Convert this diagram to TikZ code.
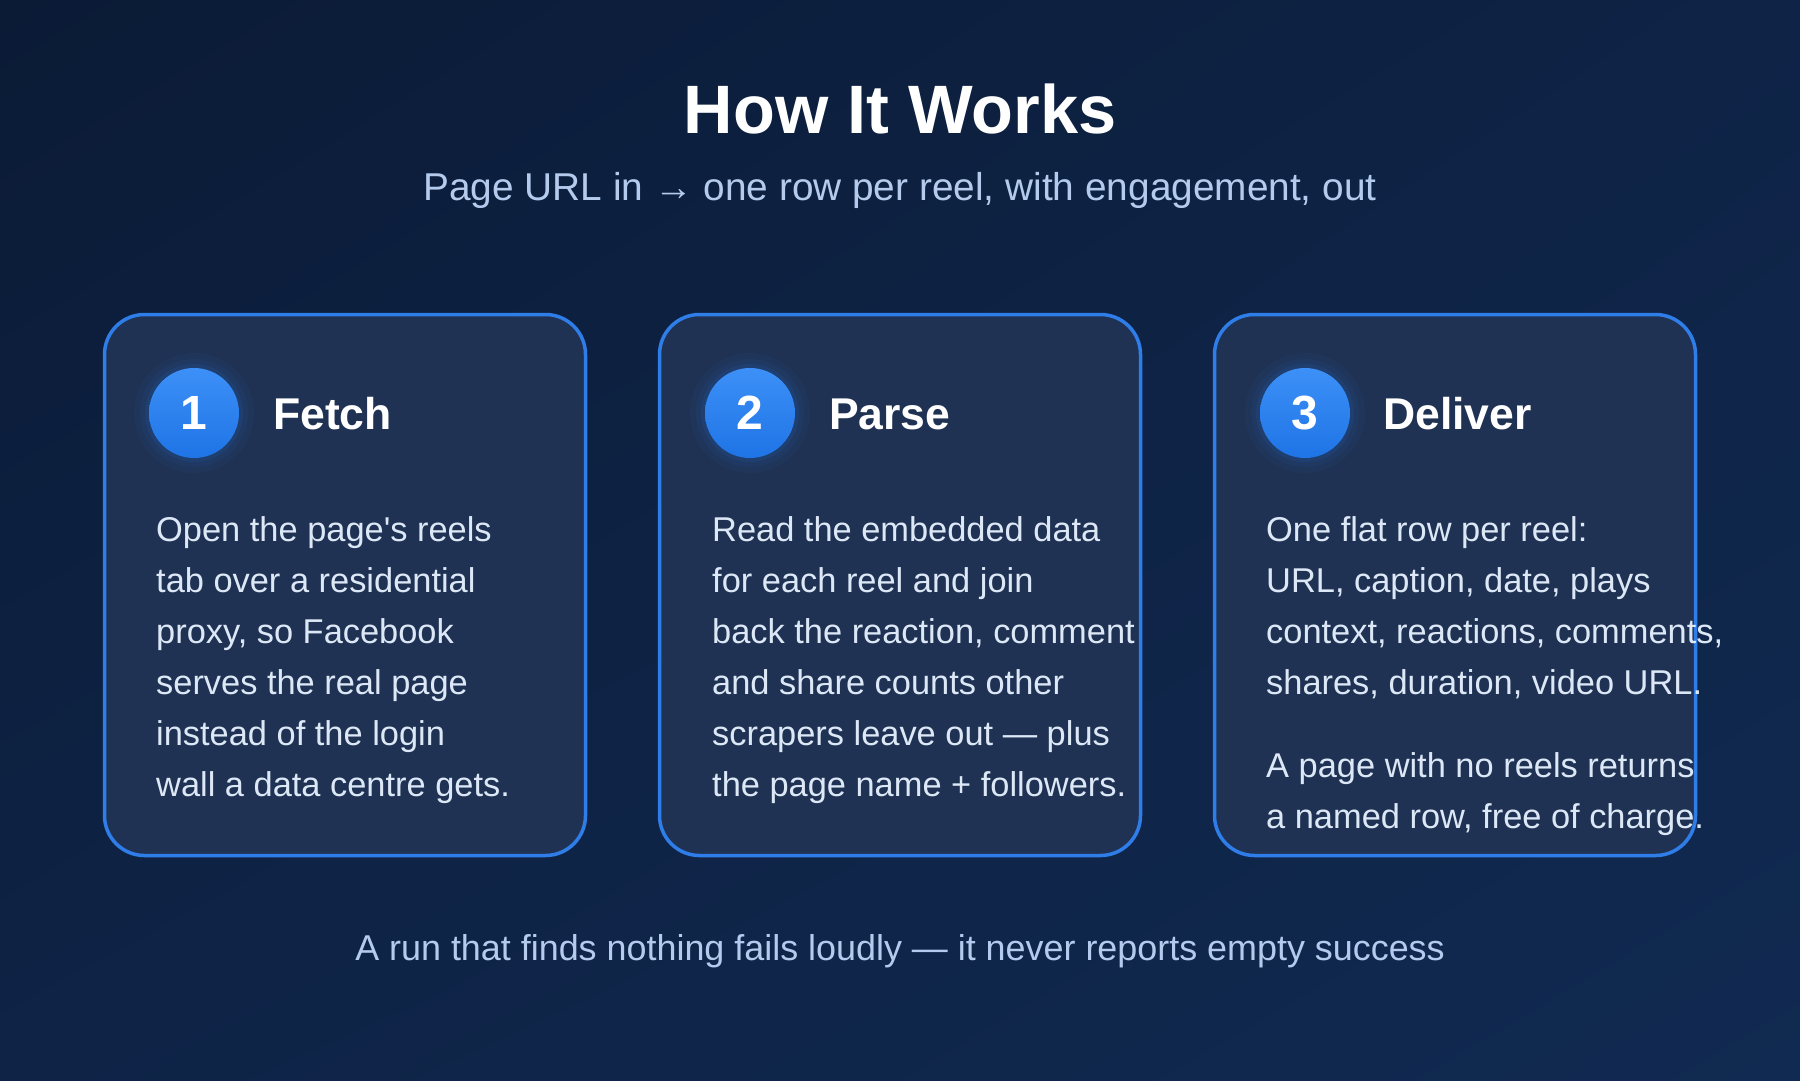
\documentclass[tikz,border=0pt]{standalone}
\usepackage{fontspec}
\setmainfont{Liberation Sans}
\usetikzlibrary{shadings}
\definecolor{bgA}{HTML}{0B1B36}
\definecolor{bgB}{HTML}{0E2346}
\definecolor{bgC}{HTML}{112A51}
\definecolor{cardfill}{HTML}{1F3253}
\definecolor{cardline}{HTML}{2F7DE8}
\definecolor{dotlight}{HTML}{3D90F7}
\definecolor{dotdark}{HTML}{1F74E6}
\definecolor{bodytext}{HTML}{DDE8F7}
\definecolor{subtext}{HTML}{B4CBED}
\begin{document}
\begin{tikzpicture}[x=1pt,y=-1pt,
  card/.style={draw=cardline, line width=3.5pt, fill=cardfill, rounded corners=40pt,
    minimum width=481pt, minimum height=541pt, inner sep=0pt},
  numdot/.style={circle, top color=dotlight, bottom color=dotdark, minimum size=90pt,
    inner sep=0pt, text=white, font=\fontsize{48}{48}\selectfont\bfseries},
  steptitle/.style={anchor=base west, inner sep=0pt, text=white,
    font=\fontsize{44.5}{44.5}\selectfont\bfseries},
  body/.style={anchor=north west, inner sep=0pt, align=left, text=bodytext,
    font=\fontsize{34.4}{51}\selectfont},
  glow/.style={fill=dotdark},
]
\useasboundingbox (0,0) rectangle (1800,1080);
\shade[upper left=bgA, upper right=bgB, lower left=bgB, lower right=bgC] (0,0) rectangle (1800,1080);

% title
\node[anchor=base, inner sep=0pt, text=white, font=\fontsize{68.5}{68.5}\selectfont\bfseries] (title) at (900,133) {How It Works};
\node[anchor=base, inner sep=0pt, text=subtext, font=\fontsize{38.8}{38.8}\selectfont] (subtitle) at (900,200) {Page URL in → one row per reel, with engagement, out};

% cards
\node[card] (card1) at (345,585) {};
\node[card] (card2) at (900,585) {};
\node[card] (card3) at (1455,585) {};

% glows
\foreach \cx in {194,750,1305}{
  \fill[glow, opacity=0.05] (\cx,413) circle (60);
  \fill[glow, opacity=0.07] (\cx,413) circle (54);
  \fill[glow, opacity=0.10] (\cx,413) circle (49);
}

% step 1
\node[numdot] (n1) at (194,413) {1};
\node[steptitle] (t1) at (273,429) {Fetch};
\node[body] (b1) at (156,505.3) {\strut Open the page\textquotesingle s reels\\tab over a residential\\proxy, so Facebook\\serves the real page\\instead of the login\\wall a data centre gets.};

% step 2
\node[numdot] (n2) at (750,413) {2};
\node[steptitle] (t2) at (829,429) {Parse};
\node[body] (b2) at (712,505.3) {\strut Read the embedded data\\for each reel and join\\back the reaction, comment\\and share counts other\\scrapers leave out — plus\\the page name + followers.};

% step 3
\node[numdot] (n3) at (1305,413) {3};
\node[steptitle] (t3) at (1383,429) {Deliver};
\node[body] (b3) at (1266,505.3) {\strut One flat row per reel:\\URL, caption, date, plays\\context, reactions, comments,\\shares, duration, video URL.\\[32pt]A page with no reels returns\\a named row, free of charge.};

% footer
\node[anchor=base, inner sep=0pt, text=subtext, font=\fontsize{35.9}{35.9}\selectfont] (footer) at (900,960) {A run that finds nothing fails loudly — it never reports empty success};
\end{tikzpicture}
\end{document}
